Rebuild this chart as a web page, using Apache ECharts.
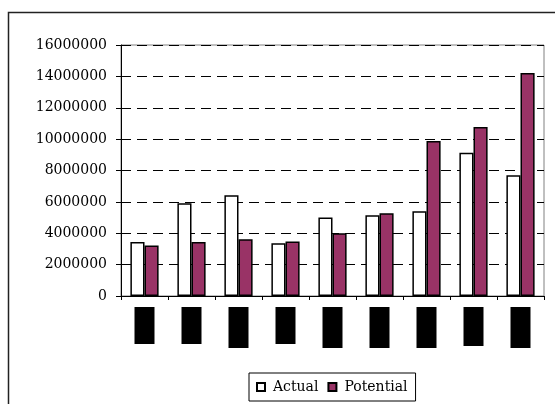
<!DOCTYPE html>
<html>
<head>
<meta charset="utf-8">
<script src="https://cdn.jsdelivr.net/npm/echarts@6/dist/echarts.min.js"></script>
<style>
  html, body { margin: 0; padding: 0; background: #fff; }
  #chart { width: 555px; height: 404px; }
</style>
</head>
<body>
<div id="chart"></div>
<script>
// Category names (shown as solid black label blocks under the axis)
const categories = ['A', 'B', 'C', 'D', 'E', 'F', 'G', 'H', 'I'];
const actual    = [3450000, 5920000, 6430000, 3360000, 5000000, 5150000, 5400000, 9130000, 7700000];
const potential = [3220000, 3450000, 3620000, 3480000, 4000000, 5280000, 9880000, 10780000, 14220000];
const yTicks = { min: 0, max: 16000000, step: 2000000 };

// Height of each black label block, in px
const labelBlockHeights = [37, 37, 41, 37, 41, 41, 41, 39, 41];

const serif = '"DejaVu Serif", "Liberation Serif", serif';
const rich = {};
labelBlockHeights.forEach(function (h) {
  rich['h' + h] = {
    backgroundColor: '#000', color: '#000', width: 20, height: h,
    fontSize: 10, fontFamily: serif, align: 'center'
  };
});

const chart = echarts.init(document.getElementById('chart'), null, { renderer: 'canvas' });
chart.setOption({
  animation: false,
  backgroundColor: '#fff',
  graphic: [{
    type: 'rect',
    shape: { x: 8.5, y: 12.5, width: 700, height: 500 },
    style: { fill: 'none', stroke: '#222', lineWidth: 1.5 },
    silent: true
  }],
  grid: {
    left: 121, right: 11, top: 45, bottom: 108,
    show: true, borderColor: '#808080', borderWidth: 1, backgroundColor: 'transparent'
  },
  legend: {
    left: 249, top: 373,
    padding: [7, 8, 7, 7],
    itemGap: 9,
    itemWidth: 8, itemHeight: 8,
    borderColor: '#000', borderWidth: 1,
    backgroundColor: '#fff',
    textStyle: { fontFamily: serif, fontSize: 14, color: '#000', padding: [0, 0, 0, 3] },
    data: [
      { name: 'Actual', icon: 'rect' },
      { name: 'Potential', icon: 'rect' }
    ]
  },
  xAxis: {
    type: 'category',
    data: categories,
    axisLine: { lineStyle: { color: '#000', width: 1 } },
    axisTick: { show: true, length: 4, alignWithLabel: false, lineStyle: { color: '#000' } },
    axisLabel: {
      margin: 11,
      interval: 0,
      formatter: function (v, i) { return '{h' + labelBlockHeights[i] + '|' + v + '}'; },
      rich: rich
    }
  },
  yAxis: {
    type: 'value',
    min: yTicks.min, max: yTicks.max, interval: yTicks.step,
    axisLine: { show: true, lineStyle: { color: '#000', width: 1 } },
    axisTick: { show: true, length: 5, lineStyle: { color: '#000' } },
    axisLabel: {
      margin: 14,
      fontFamily: serif, fontSize: 14, color: '#000',
      formatter: function (v) { return String(v); }
    },
    splitLine: { show: true, lineStyle: { color: '#000', width: 1, type: [10, 6] } }
  },
  series: [
    {
      name: 'Actual', type: 'bar', data: actual,
      barGap: '0%', barCategoryGap: '40%',
      itemStyle: { color: '#fff', borderColor: '#000', borderWidth: 1.5 }
    },
    {
      name: 'Potential', type: 'bar', data: potential,
      barGap: '0%', barCategoryGap: '40%',
      itemStyle: { color: '#993366', borderColor: '#000', borderWidth: 1.5 }
    }
  ]
});
</script>
</body>
</html>
